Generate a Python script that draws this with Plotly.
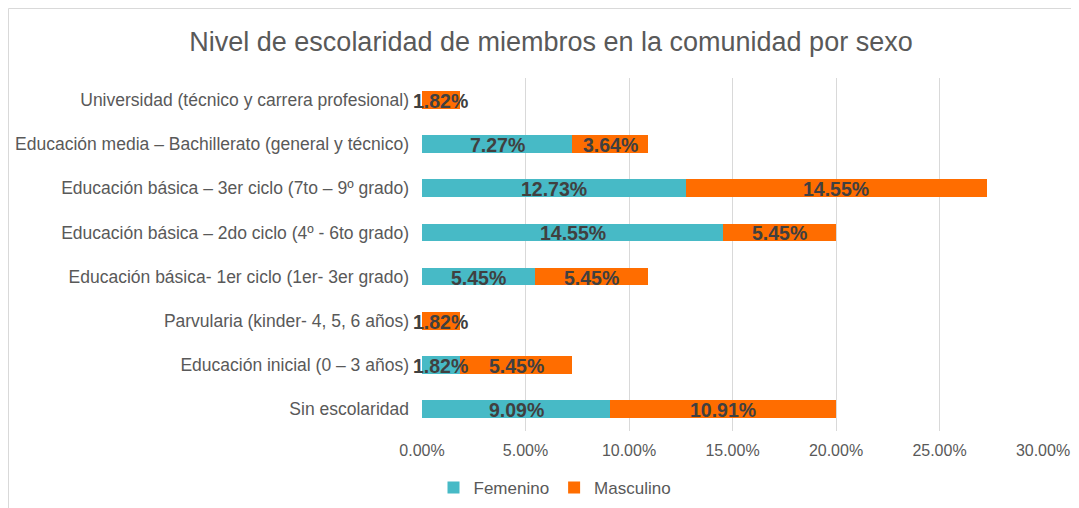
import plotly.graph_objects as go

categories = [
    "Universidad (técnico y carrera profesional)",
    "Educación media – Bachillerato (general y técnico)",
    "Educación básica – 3er ciclo (7to – 9º grado)",
    "Educación básica – 2do ciclo (4º - 6to grado)",
    "Educación básica- 1er ciclo (1er- 3er grado)",
    "Parvularia (kinder- 4, 5, 6 años)",
    "Educación inicial (0 – 3 años)",
    "Sin escolaridad",
]
femenino = [0, 7.27, 12.73, 14.55, 5.45, 0, 1.82, 9.09]
masculino = [1.82, 3.64, 14.55, 5.45, 5.45, 1.82, 5.45, 10.91]
x_ticks = [0, 5, 10, 15, 20, 25, 30]
x_tick_labels = [f"{v:.2f}%" for v in x_ticks]

TEAL = "#47BAC6"
ORANGE = "#FF6D00"
FONT = "Liberation Sans, Arial, sans-serif"
GREY = "#595959"
LABEL_FONT = dict(family=FONT, size=19.5, color="#404040", weight="bold")

fig = go.Figure()
for name, vals, col in [("Femenino", femenino, TEAL), ("Masculino", masculino, ORANGE)]:
    fig.add_trace(go.Bar(
        name=name, y=categories, x=vals, orientation="h",
        marker=dict(color=col, line=dict(width=0)),
        hoverinfo="x+y+name",
    ))

# data labels drawn on top of all bars (centred in each segment)
fem_mid = [f / 2 for f in femenino]
mas_mid = [f + m / 2 for f, m in zip(femenino, masculino)]
for mids, vals in [(fem_mid, femenino), (mas_mid, masculino)]:
    for cat, xm, v in zip(categories, mids, vals):
        if v > 0:
            fig.add_annotation(x=xm, y=cat, xref="x", yref="y", text=f"{v:.2f}%",
                               showarrow=False, font=LABEL_FONT,
                               xanchor="center", yanchor="middle", yshift=-1)

W, H = 1071, 500
fig.update_layout(
    barmode="stack", bargap=0.6,
    width=W, height=H,
    margin=dict(l=414, r=36, t=70, b=77, autoexpand=False),
    paper_bgcolor="white", plot_bgcolor="white",
    font=dict(family=FONT, color=GREY, size=17),
    title=dict(text="Nivel de escolaridad de miembros en la comunidad por sexo",
               x=543 / W, xanchor="center", yref="container",
               y=1 - 34 / H, yanchor="middle",
               font=dict(size=27, color=GREY, family=FONT)),
    xaxis=dict(range=[0, 30], tickvals=x_ticks, ticktext=x_tick_labels,
               showgrid=True, gridcolor="#D9D9D9", gridwidth=1, zeroline=False,
               showline=False, ticks="", ticklabelstandoff=8,
               tickfont=dict(size=16, color=GREY), fixedrange=True),
    yaxis=dict(categoryorder="array", categoryarray=categories[::-1],
               showgrid=False, showline=False, ticks="", ticklabelstandoff=12,
               tickfont=dict(size=17.5, color=GREY)),
    legend=dict(orientation="h", xref="container", x=547 / W, xanchor="center",
                yref="container", y=1 - 480 / H, yanchor="middle",
                font=dict(size=17, color=GREY), traceorder="normal",
                itemwidth=30),
    showlegend=True,
)

fig.add_shape(type="rect", xref="paper", yref="paper",
              x0=(0.5 - 414) / 621, x1=(1090 - 414) / 621,
              y0=(423 - 520) / 353, y1=(423 - 0.5) / 353,
              line=dict(color="#D9D9D9", width=1), layer="below")

fig.write_html("out.html")
